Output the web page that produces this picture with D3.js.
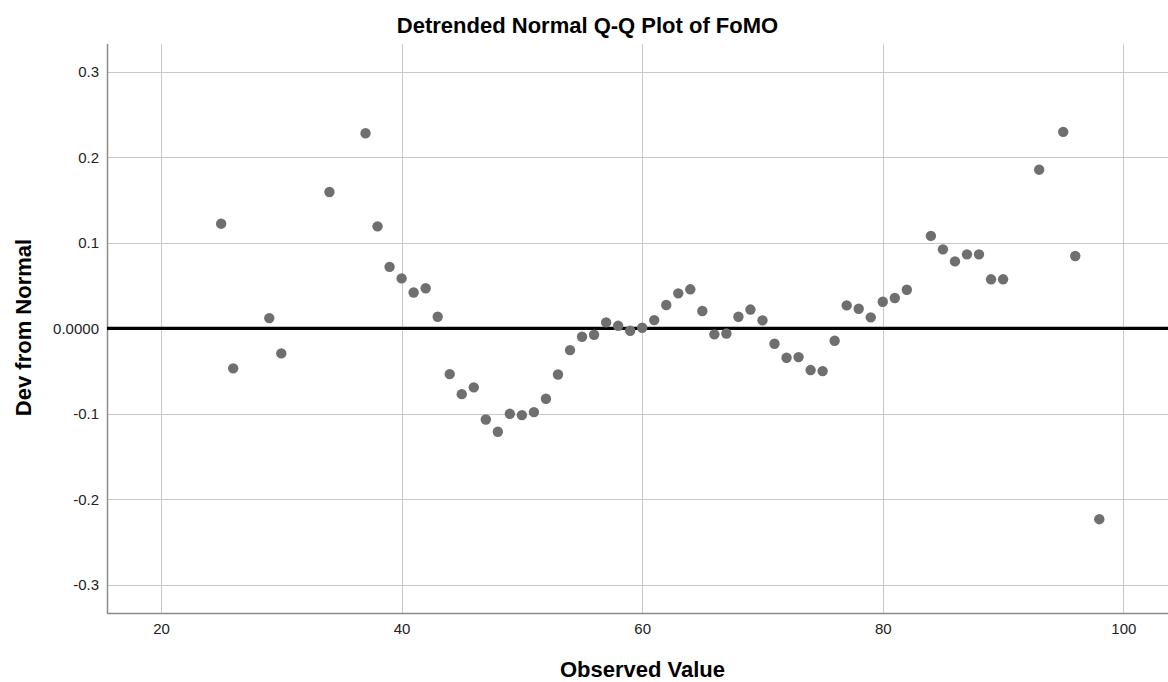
<!DOCTYPE html>
<html>
<head>
<meta charset="utf-8">
<script src="https://cdn.jsdelivr.net/npm/d3@7"></script>
<style>
  body { margin: 0; background: #ffffff; }
  svg { display: block; }
</style>
</head>
<body>
<div id="chart"></div>
<script>
// values
var observedValues = [25, 26, 29, 30, 34, 37, 38, 39, 40, 41, 42, 43, 44, 45, 46, 47, 48, 49, 50,
  51, 52, 53, 54, 55, 56, 57, 58, 59, 60, 61, 62, 63, 64, 65, 66, 67, 68, 69, 70,
  71, 72, 73, 74, 75, 76, 77, 78, 79, 80, 81, 82, 84, 85, 86, 87, 88, 89, 90,
  93, 95, 96, 98];
var devFromNormal = [0.1225, -0.0468, 0.012, -0.0293, 0.1596, 0.2283, 0.1194, 0.072, 0.0585, 0.042,
  0.047, 0.0136, -0.0535, -0.077, -0.069, -0.1066, -0.121, -0.100, -0.1015, -0.098,
  -0.0824, -0.054, -0.0254, -0.0098, -0.0075, 0.007, 0.003, -0.0028, 0.0007, 0.0097,
  0.0273, 0.041, 0.0457, 0.0203, -0.007, -0.006, 0.0136, 0.022, 0.0094, -0.018,
  -0.0344, -0.0336, -0.0488, -0.050, -0.0145, 0.0269, 0.023, 0.0129, 0.0312, 0.0355,
  0.0452, 0.1082, 0.0925, 0.0784, 0.0866, 0.0866, 0.0574, 0.0574, 0.1857, 0.230,
  0.0847, -0.2233];

var xTicks = [20, 40, 60, 80, 100];
var yTicks = [0.3, 0.2, 0.1, 0, -0.1, -0.2, -0.3];
var yTickLabels = ["0.3", "0.2", "0.1", "0.0000", "-0.1", "-0.2", "-0.3"];

var width = 1168, height = 682;
// plot box (window.top is reserved, so use plot* names)
var plotLeft = 107, plotRight = 1168, plotTop = 44, plotBottom = 613;
var fontName = "Liberation Sans, Arial, sans-serif";

var svg = d3.select("#chart").append("svg")
  .attr("width", width)
  .attr("height", height);

var x = d3.scaleLinear().domain([15.51, 103.71]).range([plotLeft, plotRight]);
var y = d3.scaleLinear().domain([-0.3331, 0.3328]).range([plotBottom, plotTop]);

// grid lines first so the points sit on top
var grid = svg.append("g");
grid.selectAll("line.vgrid")
  .data(xTicks)
  .enter().append("line")
  .attr("class", "vgrid")
  .attr("x1", function(d) { return Math.round(x(d)) + 0.5; })
  .attr("x2", function(d) { return Math.round(x(d)) + 0.5; })
  .attr("y1", plotTop)
  .attr("y2", plotBottom)
  .attr("stroke", "#c8c8c8")
  .attr("stroke-width", 1);

grid.selectAll("line.hgrid")
  .data(yTicks.filter(function(d) { return d !== 0; }))
  .enter().append("line")
  .attr("class", "hgrid")
  .attr("x1", plotLeft)
  .attr("x2", plotRight)
  .attr("y1", function(d) { return Math.round(y(d)) + 0.5; })
  .attr("y2", function(d) { return Math.round(y(d)) + 0.5; })
  .attr("stroke", "#c8c8c8")
  .attr("stroke-width", 1);

// axes
var xAxis = d3.axisBottom(x)
  .tickValues(xTicks)
  .tickSize(0)
  .tickPadding(10)
  .tickFormat(d3.format("d"));

var yAxis = d3.axisLeft(y)
  .tickValues(yTicks)
  .tickSize(0)
  .tickPadding(8)
  .tickFormat(function(d, i) { return yTickLabels[i]; });

var gx = svg.append("g")
  .attr("transform", "translate(0," + plotBottom + ")")
  .call(xAxis);
gx.select(".domain").remove();

var gy = svg.append("g")
  .attr("transform", "translate(" + plotLeft + ",0)")
  .call(yAxis);
gy.select(".domain").remove();

svg.selectAll(".tick text")
  .attr("font-family", fontName)
  .attr("font-size", "15px")
  .attr("fill", "#222");

// axis lines
svg.append("line")
  .attr("x1", plotLeft + 0.5).attr("x2", plotLeft + 0.5)
  .attr("y1", plotTop).attr("y2", plotBottom + 0.5)
  .attr("stroke", "#8c8c8c")
  .attr("stroke-width", 1.5);
svg.append("line")
  .attr("x1", plotLeft).attr("x2", plotRight)
  .attr("y1", plotBottom + 0.5).attr("y2", plotBottom + 0.5)
  .attr("stroke", "#8c8c8c")
  .attr("stroke-width", 1.5);

// zero reference line
svg.append("line")
  .attr("x1", plotLeft).attr("x2", plotRight)
  .attr("y1", y(0)).attr("y2", y(0))
  .attr("stroke", "#000000")
  .attr("stroke-width", 3.2);

// points
svg.append("g").selectAll("circle")
  .data(observedValues)
  .enter().append("circle")
  .attr("cx", function(d) { return x(d); })
  .attr("cy", function(d, i) { return y(devFromNormal[i]); })
  .attr("r", 5.2)
  .attr("fill", "#6f6f6f");

// title and axis titles
svg.append("text")
  .attr("x", 587.5)
  .attr("y", 33)
  .attr("text-anchor", "middle")
  .attr("font-family", fontName)
  .attr("font-weight", "bold")
  .attr("font-size", "22px")
  .attr("fill", "#000")
  .text("Detrended Normal Q-Q Plot of FoMO");

svg.append("text")
  .attr("x", 642.5)
  .attr("y", 677)
  .attr("text-anchor", "middle")
  .attr("font-family", fontName)
  .attr("font-weight", "bold")
  .attr("font-size", "22px")
  .attr("fill", "#000")
  .text("Observed Value");

svg.append("text")
  .attr("transform", "translate(31,327.5) rotate(-90)")
  .attr("text-anchor", "middle")
  .attr("font-family", fontName)
  .attr("font-weight", "bold")
  .attr("font-size", "22px")
  .attr("fill", "#000")
  .text("Dev from Normal");
</script>
</body>
</html>
